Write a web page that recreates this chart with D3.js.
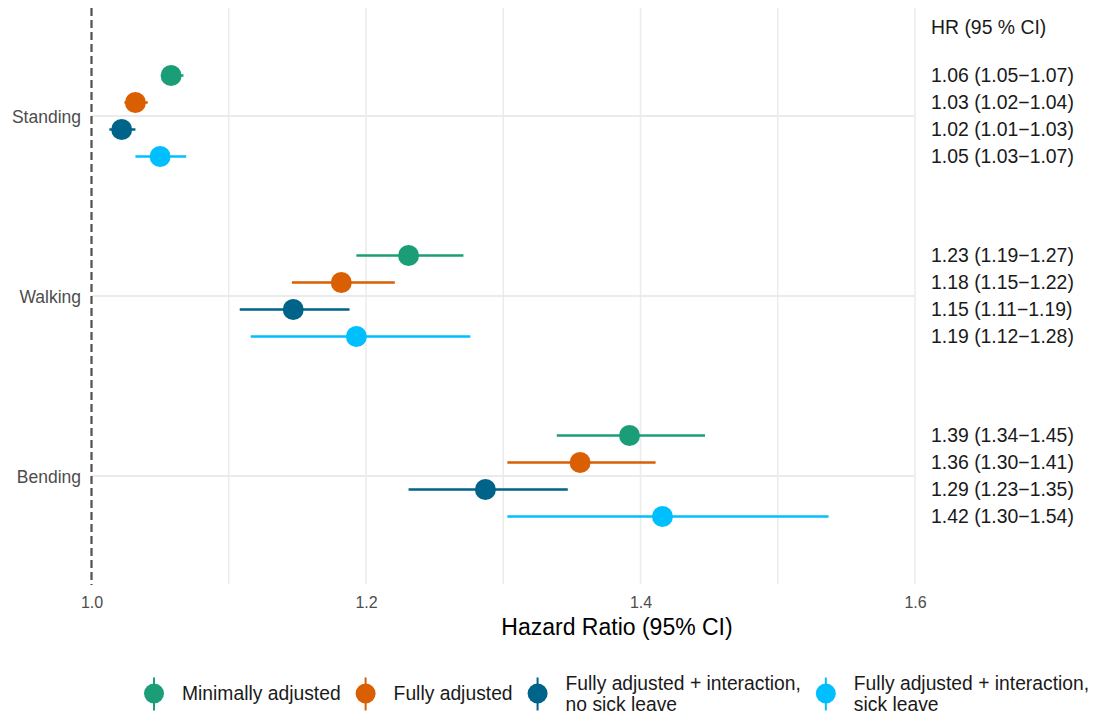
<!DOCTYPE html>
<html>
<head>
<meta charset="utf-8">
<script src="https://cdn.jsdelivr.net/npm/d3@7"></script>
<style>
  html, body { margin: 0; padding: 0; background: #fff; }
  svg { display: block; font-family: "Liberation Sans", Arial, sans-serif; }
</style>
</head>
<body>
<svg id="chart" width="1097" height="715"></svg>
<script>
// Activities on the y axis, top to bottom
const activities = ["Standing", "Walking", "Bending"];

// Model variants (dodged within each activity, top to bottom)
const models = [
  "Minimally adjusted",
  "Fully adjusted",
  "Fully adjusted + interaction,\nno sick leave",
  "Fully adjusted + interaction,\nsick leave"
];
const modelColors = ["#1b9e77", "#d95f02", "#00638a", "#00bfff"];

// Hazard ratios and 95% CI per activity, one entry per model
const hrStanding = [1.058, 1.032, 1.022, 1.050];
const loStanding = [1.051, 1.024, 1.013, 1.032];
const hiStanding = [1.067, 1.041, 1.032, 1.069];

const hrWalking = [1.231, 1.182, 1.147, 1.193];
const loWalking = [1.193, 1.146, 1.108, 1.116];
const hiWalking = [1.271, 1.221, 1.188, 1.276];

const hrBending = [1.392, 1.356, 1.287, 1.416];
const loBending = [1.339, 1.303, 1.231, 1.303];
const hiBending = [1.447, 1.411, 1.347, 1.537];

const xTicks = [1.0, 1.2, 1.4, 1.6];
const xGrid = [1.1, 1.2, 1.3, 1.4, 1.5, 1.6];

const estimates = { Standing: hrStanding, Walking: hrWalking, Bending: hrBending };
const lowers = { Standing: loStanding, Walking: loWalking, Bending: loBending };
const uppers = { Standing: hiStanding, Walking: hiWalking, Bending: hiBending };

const rows = [];
activities.forEach(a => {
  models.forEach((m, i) => {
    rows.push({ activity: a, model: i, hr: estimates[a][i], lo: lowers[a][i], hi: uppers[a][i] });
  });
});

const svg = d3.select("#chart");
const panel = { left: 91.5, right: 915, top: 8, bottom: 584 };

const x = d3.scaleLinear().domain([1.0, 1.6]).range([panel.left, panel.right]);
const y = d3.scalePoint().domain(activities).range([panel.top, panel.bottom]).padding(0.6);
const dodge = y.step() * 0.15;
const yPos = d => y(d.activity) + (d.model - (models.length - 1) / 2) * dodge;

const fmt = d3.format(".2f");
const gridColor = "#ebebeb";

// Grid lines
svg.append("g").selectAll("line").data(xGrid).join("line")
  .attr("x1", d => x(d)).attr("x2", d => x(d))
  .attr("y1", panel.top).attr("y2", panel.bottom)
  .attr("stroke", gridColor).attr("stroke-width", 1.5);

svg.append("g").selectAll("line").data(activities).join("line")
  .attr("x1", panel.left).attr("x2", panel.right)
  .attr("y1", d => y(d)).attr("y2", d => y(d))
  .attr("stroke", gridColor).attr("stroke-width", 2);

// Reference line at HR = 1
svg.append("line")
  .attr("x1", x(1)).attr("x2", x(1))
  .attr("y1", panel.top).attr("y2", panel.bottom + 1)
  .attr("stroke", "#505050").attr("stroke-width", 2.2)
  .attr("stroke-dasharray", "8,4");

// X axis tick labels
const xAxis = d3.axisBottom(x).tickValues(xTicks).tickFormat(d3.format(".1f")).tickSize(0).tickPadding(0);
const gx = svg.append("g").attr("transform", `translate(0,${panel.bottom})`).call(xAxis);
gx.select(".domain").remove();
gx.selectAll("text")
  .attr("y", 24).attr("dy", null)
  .attr("fill", "#4d4d4d").style("font-size", "16px")
  .style("font-family", "Liberation Sans, Arial, sans-serif");

// Y axis labels
const yAxis = d3.axisLeft(y).tickSize(0).tickPadding(0);
const gy = svg.append("g").attr("transform", `translate(81,0)`).call(yAxis);
gy.select(".domain").remove();
gy.selectAll("text")
  .attr("x", 0).attr("dy", "0.35em")
  .attr("fill", "#4d4d4d").style("font-size", "17.5px")
  .style("font-family", "Liberation Sans, Arial, sans-serif");

// Axis title
svg.append("text")
  .attr("x", 617).attr("y", 635)
  .attr("text-anchor", "middle")
  .attr("fill", "#000").style("font-size", "23px")
  .text("Hazard Ratio (95% CI)");

// Confidence intervals
svg.append("g").selectAll("line").data(rows).join("line")
  .attr("x1", d => x(d.lo)).attr("x2", d => x(d.hi))
  .attr("y1", yPos).attr("y2", yPos)
  .attr("stroke", d => modelColors[d.model]).attr("stroke-width", 2.5);

// Point estimates
svg.append("g").selectAll("circle").data(rows).join("circle")
  .attr("cx", d => x(d.hr)).attr("cy", yPos).attr("r", 10.5)
  .attr("fill", d => modelColors[d.model]);

// HR text column
svg.append("text")
  .attr("x", 931).attr("y", 27).attr("dy", "0.35em")
  .attr("fill", "#1a1a1a").style("font-size", "19.4px")
  .text("HR (95 % CI)");

svg.append("g").selectAll("text").data(rows).join("text")
  .attr("x", 931).attr("y", yPos).attr("dy", "0.35em")
  .attr("fill", "#1a1a1a").style("font-size", "19.4px")
  .text(d => `${fmt(d.hr)} (${fmt(d.lo)}\u2212${fmt(d.hi)})`);

// Legend
const legend = svg.append("g");
const legendY = 693.5;
let cursor = 154;
models.forEach((m, i) => {
  const item = legend.append("g").attr("transform", `translate(${cursor},${legendY})`);
  item.append("line").attr("x1", 0).attr("x2", 0).attr("y1", -16).attr("y2", 17)
    .attr("stroke", modelColors[i]).attr("stroke-width", 2);
  item.append("circle").attr("r", 10).attr("fill", modelColors[i]);
  const lines = m.split("\n");
  const t = item.append("text").attr("x", 28)
    .attr("fill", "#1a1a1a").style("font-size", "19.3px");
  lines.forEach((ln, k) => {
    t.append("tspan").attr("x", 28)
      .attr("y", (k - (lines.length - 1) / 2) * 21)
      .attr("dy", "0.35em").text(ln);
  });
  const w = d3.max(t.selectAll("tspan").nodes(), n => n.getComputedTextLength());
  cursor += 28 + w + 25;
});
</script>
</body>
</html>
